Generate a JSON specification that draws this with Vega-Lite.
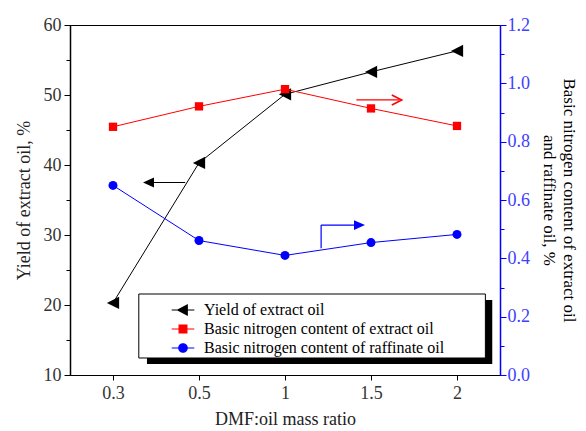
{
  "$schema": "https://vega.github.io/schema/vega-lite/v6.json",
  "width": 430,
  "height": 350,
  "autosize": {"type": "none"},
  "padding": {"left": 70, "top": 25, "right": 86, "bottom": 56},
  "background": "white",
  "config": {
    "font": "Liberation Serif",
    "view": {"stroke": "black", "strokeWidth": 1},
    "axis": {"grid": false, "labelFont": "Liberation Serif", "titleFont": "Liberation Serif", "titleFontWeight": "normal"},
    "legend": {
      "orient": "none", "legendX": 105, "legendY": 277, "direction": "vertical", "zindex": 1,
      "labelFont": "Liberation Serif", "labelFontSize": 16, "labelColor": "black", "labelLimit": 400,
      "symbolSize": 200, "symbolStrokeWidth": 1.2, "labelOffset": 13, "rowPadding": 3, "padding": 0, "symbolOpacity": 1
    }
  },
  "layer": [
    {
      "encoding": {
        "x": {
          "field": "i", "type": "quantitative",
          "scale": {"domain": [-0.5, 4.5]},
          "axis": {
            "values": [0, 1, 2, 3, 4],
            "labelExpr": "['0.3','0.5','1','1.5','2'][datum.value]",
            "title": "DMF:oil mass ratio",
            "domainColor": "black", "tickColor": "black", "tickSize": 5,
            "labelColor": "#333333", "labelFontSize": 18, "labelPadding": 4,
            "titleFontSize": 18, "titleColor": "#222222", "titlePadding": 8
          }
        },
        "y": {
          "field": "v", "type": "quantitative",
          "scale": {"domain": [10, 60]},
          "axis": {
            "orient": "left",
            "values": [10, 15, 20, 25, 30, 35, 40, 45, 50, 55, 60],
            "labelExpr": "datum.value % 10 === 0 ? datum.label : ''",
            "tickSize": {"condition": {"test": "datum.value % 10 === 0", "value": 6}, "value": 4},
            "title": "Yield of extract oil, %",
            "domainColor": "black", "domainWidth": 1.5, "tickColor": "black",
            "labelColor": "#333333", "labelFontSize": 18, "labelPadding": 3,
            "titleFontSize": 18, "titleColor": "#222222", "titlePadding": 10
          }
        }
      },
      "layer": [
        {
          "data": {"values": [{"i": 0.395, "i2": 4.41, "v": 20.7, "v2": 11.57}]},
          "mark": {"type": "rect", "fill": "black"},
          "encoding": {"x2": {"field": "i2"}, "y2": {"field": "v2"}}
        },
        {
          "data": {"values": [{"i": 0.30, "i2": 4.33, "v": 21.57, "v2": 12.43}]},
          "mark": {"type": "rect", "fill": "white", "stroke": "black", "strokeWidth": 1},
          "encoding": {"x2": {"field": "i2"}, "y2": {"field": "v2"}}
        },
        {
          "data": {"values": [{"i": 0.84, "i2": 0.45, "v": 37.5}]},
          "mark": {"type": "rule", "color": "black", "strokeWidth": 1.2},
          "encoding": {"x2": {"field": "i2"}}
        },
        {
          "data": {"values": [{"i": 0.413, "v": 37.5}]},
          "mark": {"type": "point", "filled": true, "color": "black", "shape": "M-1,0L1,-0.9L1,0.9Z", "size": 121, "opacity": 1},
          "encoding": {}
        },
        {
          "data": {"name": "yield", "values": [
            {"i": 0, "ratio": "0.3", "series": "Yield of extract oil", "v": 20.3},
            {"i": 1, "ratio": "0.5", "series": "Yield of extract oil", "v": 40.3},
            {"i": 2, "ratio": "1", "series": "Yield of extract oil", "v": 50.1},
            {"i": 3, "ratio": "1.5", "series": "Yield of extract oil", "v": 53.3},
            {"i": 4, "ratio": "2", "series": "Yield of extract oil", "v": 56.3}
          ]},
          "layer": [
            {
              "mark": {"type": "line", "strokeWidth": 1},
              "encoding": {
                "color": {"field": "series", "type": "nominal",
                  "scale": {"domain": ["Yield of extract oil", "Basic nitrogen content of extract oil", "Basic nitrogen content of raffinate oil"], "range": ["black", "#ff0000", "#0000ff"]},
                  "legend": {"title": null, "encode": {
                    "labels": {"update": {"font": {"value": "Liberation Serif"}, "fontSize": {"value": 16}, "fill": {"value": "black"}}},
                    "symbols": {"update": {
                    "shape": {"signal": "datum.value === 'Yield of extract oil' ? 'M-1.6,0H1.6M-0.75,0L0.6,-0.7L0.6,0.7Z' : datum.value === 'Basic nitrogen content of extract oil' ? 'M-1.6,0H1.6M-0.55,-0.55H0.55V0.55H-0.55Z' : 'M-1.6,0H1.6M0.6,0A0.6,0.6,0,1,1,-0.6,0A0.6,0.6,0,1,1,0.6,0Z'"},
                    "stroke": {"signal": "scale('color', datum.value)"},
                    "fill": {"signal": "scale('color', datum.value)"},
                    "strokeWidth": {"value": 1.2}, "opacity": {"value": 1}}}}}}
              }
            },
            {
              "mark": {"type": "point", "filled": true, "opacity": 1, "size": 150, "shape": "M-1,0L1,-1L1,1Z"},
              "encoding": {
                "color": {"field": "series", "type": "nominal",
                  "scale": {"domain": ["Yield of extract oil", "Basic nitrogen content of extract oil", "Basic nitrogen content of raffinate oil"], "range": ["black", "#ff0000", "#0000ff"]},
                  "legend": {"title": null, "encode": {
                    "labels": {"update": {"font": {"value": "Liberation Serif"}, "fontSize": {"value": 16}, "fill": {"value": "black"}}},
                    "symbols": {"update": {
                    "shape": {"signal": "datum.value === 'Yield of extract oil' ? 'M-1.6,0H1.6M-0.75,0L0.6,-0.7L0.6,0.7Z' : datum.value === 'Basic nitrogen content of extract oil' ? 'M-1.6,0H1.6M-0.55,-0.55H0.55V0.55H-0.55Z' : 'M-1.6,0H1.6M0.6,0A0.6,0.6,0,1,1,-0.6,0A0.6,0.6,0,1,1,0.6,0Z'"},
                    "stroke": {"signal": "scale('color', datum.value)"},
                    "fill": {"signal": "scale('color', datum.value)"},
                    "strokeWidth": {"value": 1.2}, "opacity": {"value": 1}}}}}}
              }
            }
          ]
        }
      ]
    },
    {
      "encoding": {
        "x": {"field": "i", "type": "quantitative", "scale": {"domain": [-0.5, 4.5]}},
        "y": {
          "field": "v", "type": "quantitative",
          "scale": {"domain": [0, 1.2]},
          "axis": {
            "orient": "right",
            "values": [0, 0.1, 0.2, 0.3, 0.4, 0.5, 0.6, 0.7, 0.8, 0.9, 1.0, 1.1, 1.2],
            "labelExpr": "round(datum.value*10) % 2 === 0 ? format(datum.value, '.1f') : ''",
            "tickSize": {"condition": {"test": "round(datum.value*10) % 2 === 0", "value": 6}, "value": 4},
            "title": ["Basic nitrogen content of extract oil", "and raffinate oil, %"],
            "domainColor": "#0000ff", "domainWidth": 1.5, "tickColor": "#0000ff",
            "labelColor": "#4040ff", "labelFontSize": 18, "labelPadding": 1,
            "titleFontSize": 17, "titleColor": "black", "titlePadding": 10, "titleLineHeight": 20
          }
        }
      },
      "layer": [
        {
          "data": {"values": [{"i": 2.83, "i2": 3.33, "v": 0.943}]},
          "mark": {"type": "rule", "color": "#ff0000", "strokeWidth": 1.2},
          "encoding": {"x2": {"field": "i2"}}
        },
        {
          "data": {"values": [{"i": 3.30, "v": 0.943}]},
          "mark": {"type": "point", "filled": false, "color": "#ff0000", "shape": "M-1,-1L1,0L-1,1", "size": 100, "strokeWidth": 1.5, "opacity": 1},
          "encoding": {}
        },
        {
          "data": {"values": [{"i": 2.42, "v": 0.435, "v2": 0.514}]},
          "mark": {"type": "rule", "color": "#0000ff", "strokeWidth": 1.2},
          "encoding": {"y2": {"field": "v2"}}
        },
        {
          "data": {"values": [{"i": 2.42, "i2": 2.88, "v": 0.514}]},
          "mark": {"type": "rule", "color": "#0000ff", "strokeWidth": 1.2},
          "encoding": {"x2": {"field": "i2"}}
        },
        {
          "data": {"values": [{"i": 2.866, "v": 0.514}]},
          "mark": {"type": "point", "filled": true, "color": "#0000ff", "shape": "M1,0L-1,-0.9L-1,0.9Z", "size": 121, "opacity": 1},
          "encoding": {}
        },
        {
          "data": {"name": "nitrogen", "values": [
            {"i": 0, "ratio": "0.3", "series": "Basic nitrogen content of extract oil", "v": 0.851},
            {"i": 1, "ratio": "0.5", "series": "Basic nitrogen content of extract oil", "v": 0.921},
            {"i": 2, "ratio": "1", "series": "Basic nitrogen content of extract oil", "v": 0.980},
            {"i": 3, "ratio": "1.5", "series": "Basic nitrogen content of extract oil", "v": 0.914},
            {"i": 4, "ratio": "2", "series": "Basic nitrogen content of extract oil", "v": 0.854},
            {"i": 0, "ratio": "0.3", "series": "Basic nitrogen content of raffinate oil", "v": 0.650},
            {"i": 1, "ratio": "0.5", "series": "Basic nitrogen content of raffinate oil", "v": 0.461},
            {"i": 2, "ratio": "1", "series": "Basic nitrogen content of raffinate oil", "v": 0.410},
            {"i": 3, "ratio": "1.5", "series": "Basic nitrogen content of raffinate oil", "v": 0.454},
            {"i": 4, "ratio": "2", "series": "Basic nitrogen content of raffinate oil", "v": 0.482}
          ]},
          "layer": [
            {
              "mark": {"type": "line", "strokeWidth": 1},
              "encoding": {
                "color": {"field": "series", "type": "nominal",
                  "scale": {"domain": ["Yield of extract oil", "Basic nitrogen content of extract oil", "Basic nitrogen content of raffinate oil"], "range": ["black", "#ff0000", "#0000ff"]},
                  "legend": {"title": null, "encode": {
                    "labels": {"update": {"font": {"value": "Liberation Serif"}, "fontSize": {"value": 16}, "fill": {"value": "black"}}},
                    "symbols": {"update": {
                    "shape": {"signal": "datum.value === 'Yield of extract oil' ? 'M-1.6,0H1.6M-0.75,0L0.6,-0.7L0.6,0.7Z' : datum.value === 'Basic nitrogen content of extract oil' ? 'M-1.6,0H1.6M-0.55,-0.55H0.55V0.55H-0.55Z' : 'M-1.6,0H1.6M0.6,0A0.6,0.6,0,1,1,-0.6,0A0.6,0.6,0,1,1,0.6,0Z'"},
                    "stroke": {"signal": "scale('color', datum.value)"},
                    "fill": {"signal": "scale('color', datum.value)"},
                    "strokeWidth": {"value": 1.2}, "opacity": {"value": 1}}}}}}
              }
            },
            {
              "transform": [{"filter": "datum.series === 'Basic nitrogen content of extract oil'"}],
              "mark": {"type": "point", "filled": true, "opacity": 1, "size": 69, "shape": "square"},
              "encoding": {
                "color": {"field": "series", "type": "nominal",
                  "scale": {"domain": ["Yield of extract oil", "Basic nitrogen content of extract oil", "Basic nitrogen content of raffinate oil"], "range": ["black", "#ff0000", "#0000ff"]},
                  "legend": {"title": null, "encode": {
                    "labels": {"update": {"font": {"value": "Liberation Serif"}, "fontSize": {"value": 16}, "fill": {"value": "black"}}},
                    "symbols": {"update": {
                    "shape": {"signal": "datum.value === 'Yield of extract oil' ? 'M-1.6,0H1.6M-0.75,0L0.6,-0.7L0.6,0.7Z' : datum.value === 'Basic nitrogen content of extract oil' ? 'M-1.6,0H1.6M-0.55,-0.55H0.55V0.55H-0.55Z' : 'M-1.6,0H1.6M0.6,0A0.6,0.6,0,1,1,-0.6,0A0.6,0.6,0,1,1,0.6,0Z'"},
                    "stroke": {"signal": "scale('color', datum.value)"},
                    "fill": {"signal": "scale('color', datum.value)"},
                    "strokeWidth": {"value": 1.2}, "opacity": {"value": 1}}}}}}
              }
            },
            {
              "transform": [{"filter": "datum.series === 'Basic nitrogen content of raffinate oil'"}],
              "mark": {"type": "point", "filled": true, "opacity": 1, "size": 81, "shape": "circle"},
              "encoding": {
                "color": {"field": "series", "type": "nominal",
                  "scale": {"domain": ["Yield of extract oil", "Basic nitrogen content of extract oil", "Basic nitrogen content of raffinate oil"], "range": ["black", "#ff0000", "#0000ff"]},
                  "legend": {"title": null, "encode": {
                    "labels": {"update": {"font": {"value": "Liberation Serif"}, "fontSize": {"value": 16}, "fill": {"value": "black"}}},
                    "symbols": {"update": {
                    "shape": {"signal": "datum.value === 'Yield of extract oil' ? 'M-1.6,0H1.6M-0.75,0L0.6,-0.7L0.6,0.7Z' : datum.value === 'Basic nitrogen content of extract oil' ? 'M-1.6,0H1.6M-0.55,-0.55H0.55V0.55H-0.55Z' : 'M-1.6,0H1.6M0.6,0A0.6,0.6,0,1,1,-0.6,0A0.6,0.6,0,1,1,0.6,0Z'"},
                    "stroke": {"signal": "scale('color', datum.value)"},
                    "fill": {"signal": "scale('color', datum.value)"},
                    "strokeWidth": {"value": 1.2}, "opacity": {"value": 1}}}}}}
              }
            }
          ]
        }
      ]
    }
  ],
  "resolve": {"scale": {"y": "independent"}}
}
